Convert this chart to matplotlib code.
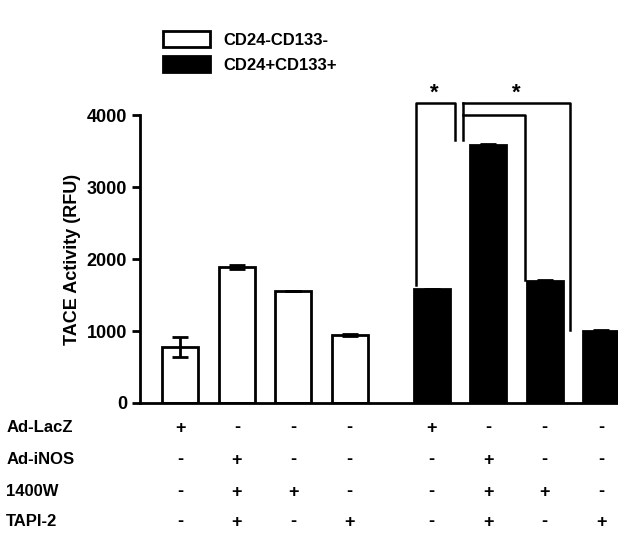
import numpy as np
import matplotlib.pyplot as plt
from matplotlib.patches import Patch
from matplotlib.transforms import blended_transform_factory

plt.rcParams['font.family'] = ['Liberation Sans', 'DejaVu Sans']
plt.rcParams['font.weight'] = 'bold'

x_pos = [0, 1, 2, 3, 4.45, 5.45, 6.45, 7.45]
neg_vals = [780, 1890, 1550, 940]
neg_err = [140, 25, 0, 15]
pos_vals = [1580, 3590, 1700, 1000]
pos_err = [10, 10, 10, 10]
row_names = ['Ad-LacZ', 'Ad-iNOS', '1400W', 'TAPI-2']
rows = [['+', '-', '-', '-'],
        ['-', '+', '-', '-'],
        ['-', '+', '+', '-'],
        ['-', '+', '-', '+']]

fig = plt.figure(figsize=(6.18, 5.49), dpi=100)
ax = fig.add_axes([0.227, 0.266, 0.773, 0.524])
w = 0.64
ax.bar(x_pos[:4], neg_vals, w, color='white', edgecolor='black', linewidth=2,
       yerr=neg_err, error_kw=dict(lw=2, capsize=6, capthick=2))
ax.bar(x_pos[4:], pos_vals, w, color='black', edgecolor='black', linewidth=2,
       yerr=pos_err, error_kw=dict(lw=2, capsize=6, capthick=2))
ax.set_ylim(0, 4000)
ax.set_xlim(-0.71, 7.75)
ax.set_yticks([0, 1000, 2000, 3000, 4000])
ax.tick_params(axis='y', labelsize=13, width=2, length=6)
ax.set_xticks([])
for s in ['top', 'right']:
    ax.spines[s].set_visible(False)
for s in ['left', 'bottom']:
    ax.spines[s].set_linewidth(2)
ax.set_ylabel('TACE Activity (RFU)', fontsize=13, fontweight='bold')

# significance brackets
kw = dict(color='black', lw=1.8, clip_on=False)
ax.plot([4.18, 4.18, 4.87, 4.87], [1640, 4170, 4170, 3650], **kw)
ax.plot([5.01, 6.9, 6.9], [4170, 4170, 1010], **kw)
ax.plot([5.01, 6.1, 6.1], [4000, 4000, 1710], **kw)
ax.plot([5.01, 5.01], [3650, 4170], **kw)
ax.text(4.5, 4230, '*', ha='center', fontsize=16, clip_on=False)
ax.text(5.95, 4230, '*', ha='center', fontsize=16, clip_on=False)

# treatment table
tr = blended_transform_factory(ax.transData, fig.transFigure)
ys = [1 - 428 / 549, 1 - 460 / 549, 1 - 492 / 549, 1 - 522 / 549]
for name, row, y in zip(row_names, rows, ys):
    fig.text(0.01, y, name, fontsize=12, va='center')
    for xi, sign in zip(x_pos, row + row):
        ax.text(xi, y, sign, transform=tr, ha='center', va='center', fontsize=13)

handles = [Patch(facecolor='white', edgecolor='black', linewidth=2, label='CD24-CD133-'),
           Patch(facecolor='black', edgecolor='black', linewidth=2, label='CD24+CD133+')]
fig.legend(handles=handles, loc='upper left', bbox_to_anchor=(0.24, 0.97),
           frameon=False, fontsize=12, handlelength=2.8, handleheight=1.1,
           labelspacing=0.5)

fig.savefig('out.png', dpi=100)
